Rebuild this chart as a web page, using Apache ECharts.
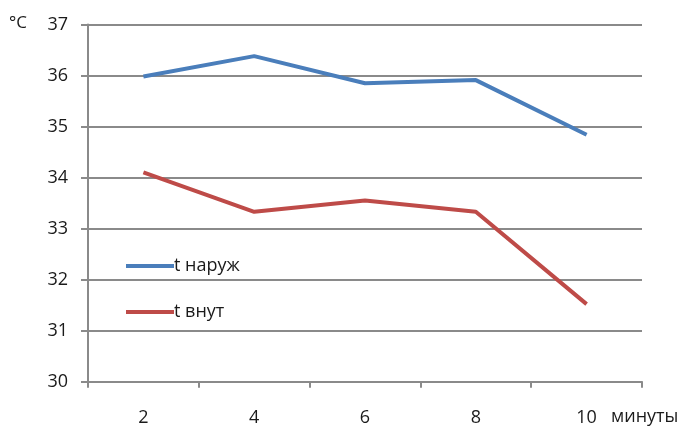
<!DOCTYPE html>
<html>
<head>
<meta charset="utf-8">
<script src="https://cdn.jsdelivr.net/npm/echarts@6/dist/echarts.min.js"></script>
<style>
  html, body { margin: 0; padding: 0; background: #fff; }
  #chart { width: 683px; height: 428px; }
</style>
</head>
<body>
<div id="chart"></div>
<script>
// Minutes elapsed and measured temperatures (°C)
const minutes = ['2', '4', '6', '8', '10'];
const tOuter = [35.98, 36.38, 35.85, 35.91, 34.84];
const tInner = [34.10, 33.33, 33.55, 33.33, 31.52];
const yTicks = { min: 30, max: 37, step: 1 };

const FONT = '"Open Sans", "Noto Sans", sans-serif';
const AXIS_GRAY = '#8a8a8a';
const TEXT = '#1a1a1a';

const chart = echarts.init(document.getElementById('chart'), null, { renderer: 'canvas' });

chart.setOption({
  animation: false,
  backgroundColor: '#ffffff',
  grid: { left: 88, right: 41, top: 24.5, bottom: 46.3, containLabel: false },
  legend: {
    orient: 'vertical',
    left: 121,
    top: 252,
    itemWidth: 48,
    itemHeight: 4,
    itemGap: 28,
    icon: 'rect',
    textStyle: { fontFamily: FONT, fontSize: 18, color: TEXT, padding: [0, 0, 0, -5] },
    data: ['t наруж', 't внут']
  },
  xAxis: {
    type: 'category',
    data: minutes,
    boundaryGap: true,
    axisLine: { lineStyle: { color: AXIS_GRAY, width: 2 } },
    axisTick: { show: true, alignWithLabel: false, length: 6, lineStyle: { color: AXIS_GRAY, width: 2 } },
    axisLabel: { margin: 27, fontFamily: FONT, fontSize: 18, color: TEXT },
    splitLine: { show: false }
  },
  yAxis: {
    type: 'value',
    min: yTicks.min,
    max: yTicks.max,
    interval: yTicks.step,
    axisLine: { show: true, lineStyle: { color: AXIS_GRAY, width: 2 } },
    axisTick: { show: true, length: 7, lineStyle: { color: AXIS_GRAY, width: 2 } },
    axisLabel: { margin: 20, fontFamily: FONT, fontSize: 18, color: TEXT },
    splitLine: { show: true, lineStyle: { color: AXIS_GRAY, width: 2 } }
  },
  graphic: [
    { type: 'text', left: 9, top: 15, style: { text: '°C', font: '17px ' + FONT, fill: TEXT } },
    { type: 'text', left: 611, top: 408, style: { text: 'минуты', font: '18px ' + FONT, fill: TEXT } }
  ],
  series: [
    {
      name: 't наруж',
      type: 'line',
      data: tOuter,
      symbol: 'none',
      lineStyle: { color: '#4a7ebb', width: 4 },
      itemStyle: { color: '#4a7ebb' }
    },
    {
      name: 't внут',
      type: 'line',
      data: tInner,
      symbol: 'none',
      lineStyle: { color: '#be4b48', width: 4 },
      itemStyle: { color: '#be4b48' }
    }
  ]
});
</script>
</body>
</html>
